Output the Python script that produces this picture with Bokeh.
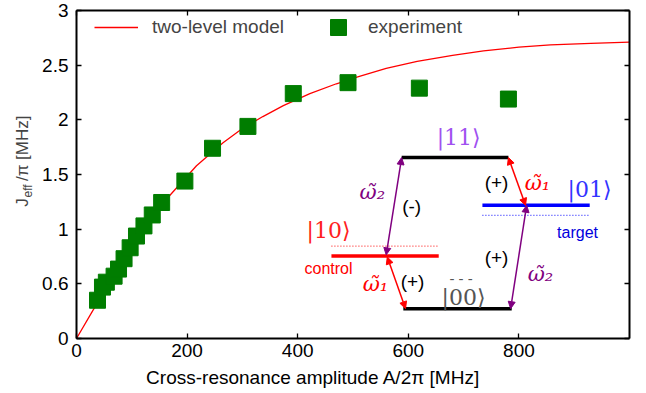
import math
from bokeh.plotting import figure
from bokeh.models import (Range1d, FixedTicker, LinearAxis, Legend, LegendItem,
                          Label, Arrow, NormalHead)
from bokeh.embed import file_html
from bokeh.resources import INLINE

# ---------------- data ----------------
curve_x = [0, 30, 60, 100, 140, 169, 217, 265, 300, 337, 374, 422, 470, 504,
           560, 616, 680, 736, 800, 857, 930, 1000]
curve_y = [0, 0.26, 0.51, 0.83, 1.13, 1.31, 1.58, 1.79, 1.92, 2.03, 2.13, 2.24,
           2.33, 2.385, 2.47, 2.535, 2.59, 2.63, 2.665, 2.685, 2.70, 2.71]

exp_x = [38, 47, 54, 68, 76, 86, 97, 108.5, 122, 137, 154, 196, 246, 310, 392,
         491, 620, 781]
exp_y = [0.35, 0.47, 0.515, 0.57, 0.635, 0.73, 0.83, 0.937, 1.03, 1.13, 1.244,
         1.44, 1.74, 1.94, 2.24, 2.34, 2.29, 2.19]

x_ticks = [0, 200, 400, 600, 800]
y_ticks = [0, 0.5, 1, 1.5, 2, 2.5, 3]
y_tick_labels = ["0", "0.6", "1", "1.5", "2", "2.5", "3"]
X_MIN, X_MAX = 0, 1000
Y_MIN, Y_MAX = 0, 3

# ---------------- inset diagram (annotation layout) ----------------
levels = [  # x0, x1, y, color
    (588, 781, 1.655, "black"),
    (734, 928, 1.218, "#0000ff"),
    (461, 655, 0.755, "#ff0000"),
    (591, 787, 0.273, "black"),
]
dotted = [
    (734, 928, 1.127, "#0000ff"),
    (461, 655, 0.845, "#ff0000"),
]
arrows = [  # xs, ys, xe, ye, color
    (560, 0.765, 588, 1.655, "#800080"),
    (781, 1.655, 812, 1.218, "#ff0000"),
    (562, 0.745, 595, 0.273, "#ff0000"),
    (814, 1.218, 785, 0.273, "#800080"),
]
SERIF = "DejaVu Serif"
SANS = "Liberation Sans"
texts = [  # text, x, y, color, font, size, style
    ("|11\u27e9", 691, 1.836, "#a050f0", SERIF, "22px", "normal"),
    ("\u03c9\u0303\u2082", 535, 1.336, "#800080", SERIF, "21px", "italic"),
    ("(-)", 606, 1.209, "black", SANS, "19px", "normal"),
    ("(+)", 759.5, 1.427, "black", SANS, "19px", "normal"),
    ("\u03c9\u0303\u2081", 833.6, 1.418, "#ff0000", SERIF, "21px", "italic"),
    ("|01\u27e9", 927.7, 1.364, "#3333ff", SERIF, "22px", "normal"),
    ("target", 906, 0.973, "#0000dd", SANS, "16px", "normal"),
    ("|10\u27e9", 455.7, 0.991, "#ff2020", SERIF, "22px", "normal"),
    ("control", 455.7, 0.636, "#ff0000", SANS, "16px", "normal"),
    ("\u03c9\u0303\u2081", 540.7, 0.50, "#ff0000", SERIF, "21px", "italic"),
    ("(+)", 607.6, 0.518, "black", SANS, "19px", "normal"),
    ("|00\u27e9", 699.8, 0.373, "#555555", SERIF, "22px", "normal"),
    ("-  -  -", 703, 0.55, "#555555", SANS, "15px", "normal"),
    ("(+)", 759.5, 0.745, "black", SANS, "19px", "normal"),
    ("\u03c9\u0303\u2082", 839, 0.591, "#800080", SERIF, "21px", "italic"),
]

GREEN = "#007d00"
RED = "#ff0000"

W, H = 646, 393
# frame = whole canvas; axes are placed at fixed data locations
p = figure(width=W, height=H, output_backend="svg", toolbar_location=None,
           x_range=Range1d(-137.4, 1030.7), y_range=Range1d(-0.503, 3.0915),
           min_border_left=0, min_border_right=0, min_border_top=0,
           min_border_bottom=0)
p.outline_line_color = None
p.xgrid.visible = False
p.ygrid.visible = False
p.background_fill_color = "white"
p.border_fill_color = "white"

r_line = p.line(curve_x, curve_y, line_color=RED, line_width=1.3)
r_sq = p.scatter(exp_x, exp_y, marker="square", size=16, fill_color=GREEN,
                 line_color=GREEN)

def style(ax):
    ax.axis_line_width = 2
    ax.major_tick_in = 5
    ax.major_tick_out = 0
    ax.major_tick_line_width = 1.3
    ax.minor_tick_line_color = None
    ax.major_label_text_font = SANS
    ax.major_label_text_font_size = "19px"
    ax.major_label_text_color = "black"

bx = p.xaxis[0]
ly = p.yaxis[0]
style(bx)
style(ly)
bx.ticker = FixedTicker(ticks=x_ticks)
bx.fixed_location = Y_MIN
bx.bounds = (X_MIN, X_MAX)
bx.major_label_standoff = 5
ly.ticker = FixedTicker(ticks=y_ticks)
ly.fixed_location = X_MIN
ly.bounds = (Y_MIN, Y_MAX)
ly.major_label_overrides = {t: l for t, l in zip(y_ticks, y_tick_labels)}
ly.major_label_standoff = 8

top = LinearAxis(ticker=FixedTicker(ticks=x_ticks), fixed_location=Y_MAX,
                 bounds=(X_MIN, X_MAX))
right = LinearAxis(ticker=FixedTicker(ticks=y_ticks), fixed_location=X_MAX,
                   bounds=(Y_MIN, Y_MAX))
for ax in (top, right):
    style(ax)
    ax.major_label_text_color = None
    ax.major_label_text_alpha = 0
p.add_layout(top, "above")
p.add_layout(right, "right")

# x axis label (offset left like the reference)
p.add_layout(Label(x=428, y=-0.36, text="Cross-resonance amplitude A/2\u03c0 [MHz]",
                   text_align="center", text_baseline="middle", text_font=SANS,
                   text_font_size="19px", text_color="black"))
# y axis label with subscript
ang = math.pi / 2
p.add_layout(Label(x=-97, y=1.205, text="J", angle=ang, text_align="left",
                   text_baseline="middle", text_font=SANS, text_font_size="17px"))
p.add_layout(Label(x=-88, y=1.29, text="eff", angle=ang, text_align="left",
                   text_baseline="middle", text_font=SANS, text_font_size="12px"))
p.add_layout(Label(x=-97, y=1.44, text="/\u03c0  [MHz]", angle=ang, text_align="left",
                   text_baseline="middle", text_font=SANS, text_font_size="17px"))

# legends
leg1 = Legend(items=[LegendItem(label="two-level model", renderers=[r_line])],
              location=(94, 346), glyph_width=44, glyph_height=40, label_standoff=14,
              padding=0, margin=0, border_line_color=None, background_fill_alpha=0,
              label_text_font=SANS, label_text_font_size="19px")
leg2 = Legend(items=[LegendItem(label="experiment", renderers=[r_sq])],
              location=(318, 346), glyph_width=40, glyph_height=40, label_standoff=10,
              padding=0, margin=0, border_line_color=None, background_fill_alpha=0,
              label_text_font=SANS, label_text_font_size="19px")
p.add_layout(leg1)
p.add_layout(leg2)

# inset diagram
p.segment(x0=[l[0] for l in levels], x1=[l[1] for l in levels],
          y0=[l[2] for l in levels], y1=[l[2] for l in levels],
          line_color=[l[3] for l in levels], line_width=3.5)
p.segment(x0=[l[0] for l in dotted], x1=[l[1] for l in dotted],
          y0=[l[2] for l in dotted], y1=[l[2] for l in dotted],
          line_color=[l[3] for l in dotted], line_width=1, line_dash="1 2")
for xs, ys, xe, ye, c in arrows:
    p.add_layout(Arrow(x_start=xs, y_start=ys, x_end=xe, y_end=ye, line_color=c,
                       line_width=1.5,
                       start=NormalHead(size=7, fill_color=c, line_color=c),
                       end=NormalHead(size=7, fill_color=c, line_color=c)))
for t, x, y, c, f, s, st in texts:
    p.add_layout(Label(x=x, y=y, text=t, text_align="center", text_baseline="middle",
                       text_color=c, text_font=f, text_font_size=s,
                       text_font_style=st))

open("out.html", "w").write(file_html(p, INLINE))
